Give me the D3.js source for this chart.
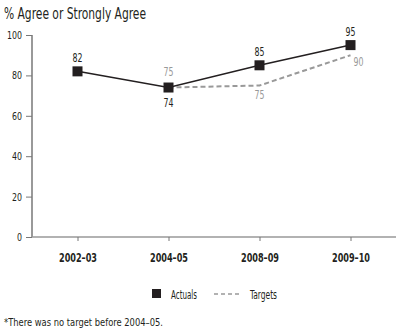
<!DOCTYPE html>
<html><head><meta charset="utf-8">
<script src="https://cdn.jsdelivr.net/npm/d3@7"></script>
<style>
body{margin:0;background:#fff;}
text{font-family:"DejaVu Sans Condensed","Liberation Sans Narrow",sans-serif;}
</style></head>
<body><svg id="c" width="400" height="329"></svg>
<script>
const categories = ["2002\u201303","2004\u201305","2008\u201309","2009\u201310"];
const actuals = [82, 74, 85, 95];
const targets = [null, 75, 75, 90];
const yTicks = [0, 20, 40, 60, 80, 100];
const title = "% Agree or Strongly Agree";
const footnote = "*There was no target before 2004\u201305.";

const svg = d3.select("#c");
const x = d3.scalePoint().domain(categories).range([32, 396]).padding(0.5);
const y = d3.scaleLinear().domain([0, 100]).range([237, 35]);
const axisCol = "#777";
const ff = '"DejaVu Sans Condensed","Liberation Sans Narrow",sans-serif';

svg.append("text").attr("x", 4).attr("y", 19).attr("font-size", 16).attr("fill", "#231f20")
  .attr("textLength", 142).attr("lengthAdjust", "spacingAndGlyphs").text(title);

// y axis
const ya = svg.append("g").attr("transform", "translate(32,0)")
  .call(d3.axisLeft(y).tickValues(yTicks).tickSize(6).tickPadding(4));
ya.select(".domain").attr("stroke", axisCol).attr("stroke-width", 1.5).attr("d", `M0,${y(100)}V${y(0)}`);
ya.selectAll(".tick line").attr("stroke", axisCol);
ya.selectAll(".tick text").attr("font-size", 11).attr("fill", "#231f20").style("font-family", ff)
  .attr("lengthAdjust", "spacingAndGlyphs").attr("textLength", d => d === 100 ? 15 : (d === 0 ? 5 : 10));

// x axis
const xa = svg.append("g").attr("transform", `translate(0,${y(0)})`)
  .call(d3.axisBottom(x).tickSize(4).tickPadding(12));
xa.select(".domain").attr("stroke", "#999").attr("stroke-width", 1.5).attr("d", "M32,0H396");
xa.selectAll(".tick line").attr("stroke", axisCol);
xa.selectAll(".tick text").attr("font-size", 12).attr("font-weight", 600).attr("fill", "#231f20")
  .style("font-family", ff).attr("textLength", 38).attr("lengthAdjust", "spacingAndGlyphs");

// targets line
const tdata = categories.map((c, i) => ({c, v: targets[i]})).filter(d => d.v != null);
const tline = d3.line().x(d => x(d.c)).y(d => y(d.v));
const tpath = tdata.map((d, i) => i === 0 ? {c: d.c, v: actuals[categories.indexOf(d.c)]} : d);
svg.append("path").attr("d", tline(tpath)).attr("fill", "none")
  .attr("stroke", "#999").attr("stroke-width", 2).attr("stroke-dasharray", "5,3");

// actual line
const adata = categories.map((c, i) => ({c, v: actuals[i]}));
svg.append("path").attr("d", d3.line().x(d => x(d.c)).y(d => y(d.v))(adata))
  .attr("fill", "none").attr("stroke", "#231f20").attr("stroke-width", 1.5);
svg.selectAll("rect.m").data(adata).enter().append("rect")
  .attr("x", d => x(d.c) - 5).attr("y", d => y(d.v) - 5).attr("width", 10).attr("height", 10)
  .attr("fill", "#231f20");

// actual labels
const aBelow = [false, true, false, false];
svg.selectAll("text.al").data(adata).enter().append("text")
  .attr("x", d => x(d.c)).attr("y", (d, i) => aBelow[i] ? y(d.v) + 19 : y(d.v) - 9)
  .attr("text-anchor", "middle").attr("font-size", 12).attr("fill", "#231f20")
  .attr("textLength", 10).attr("lengthAdjust", "spacingAndGlyphs").text(d => d.v);

// target labels
const tOff = [null, [0, -10], [0, 13], [8, 11]];
svg.selectAll("text.tl").data(tdata).enter().append("text")
  .attr("x", d => x(d.c) + tOff[categories.indexOf(d.c)][0])
  .attr("y", d => y(d.v) + tOff[categories.indexOf(d.c)][1])
  .attr("text-anchor", "middle").attr("font-size", 12).attr("fill", "#999")
  .attr("textLength", 10).attr("lengthAdjust", "spacingAndGlyphs").text(d => d.v);

// legend
const lg = svg.append("g");
lg.append("rect").attr("x", 152).attr("y", 289).attr("width", 9).attr("height", 9).attr("fill", "#231f20");
lg.append("text").attr("x", 171).attr("y", 299).attr("font-size", 12).attr("fill", "#231f20")
  .attr("textLength", 26).attr("lengthAdjust", "spacingAndGlyphs").text("Actuals");
lg.append("line").attr("x1", 214).attr("x2", 240).attr("y1", 294).attr("y2", 294)
  .attr("stroke", "#999").attr("stroke-width", 1.5).attr("stroke-dasharray", "4,3");
lg.append("text").attr("x", 250).attr("y", 299).attr("font-size", 12).attr("fill", "#231f20")
  .attr("textLength", 27).attr("lengthAdjust", "spacingAndGlyphs").text("Targets");

svg.append("text").attr("x", 4).attr("y", 326).attr("font-size", 11).attr("fill", "#231f20")
  .attr("textLength", 159).attr("lengthAdjust", "spacingAndGlyphs").text(footnote);
</script></body></html>
